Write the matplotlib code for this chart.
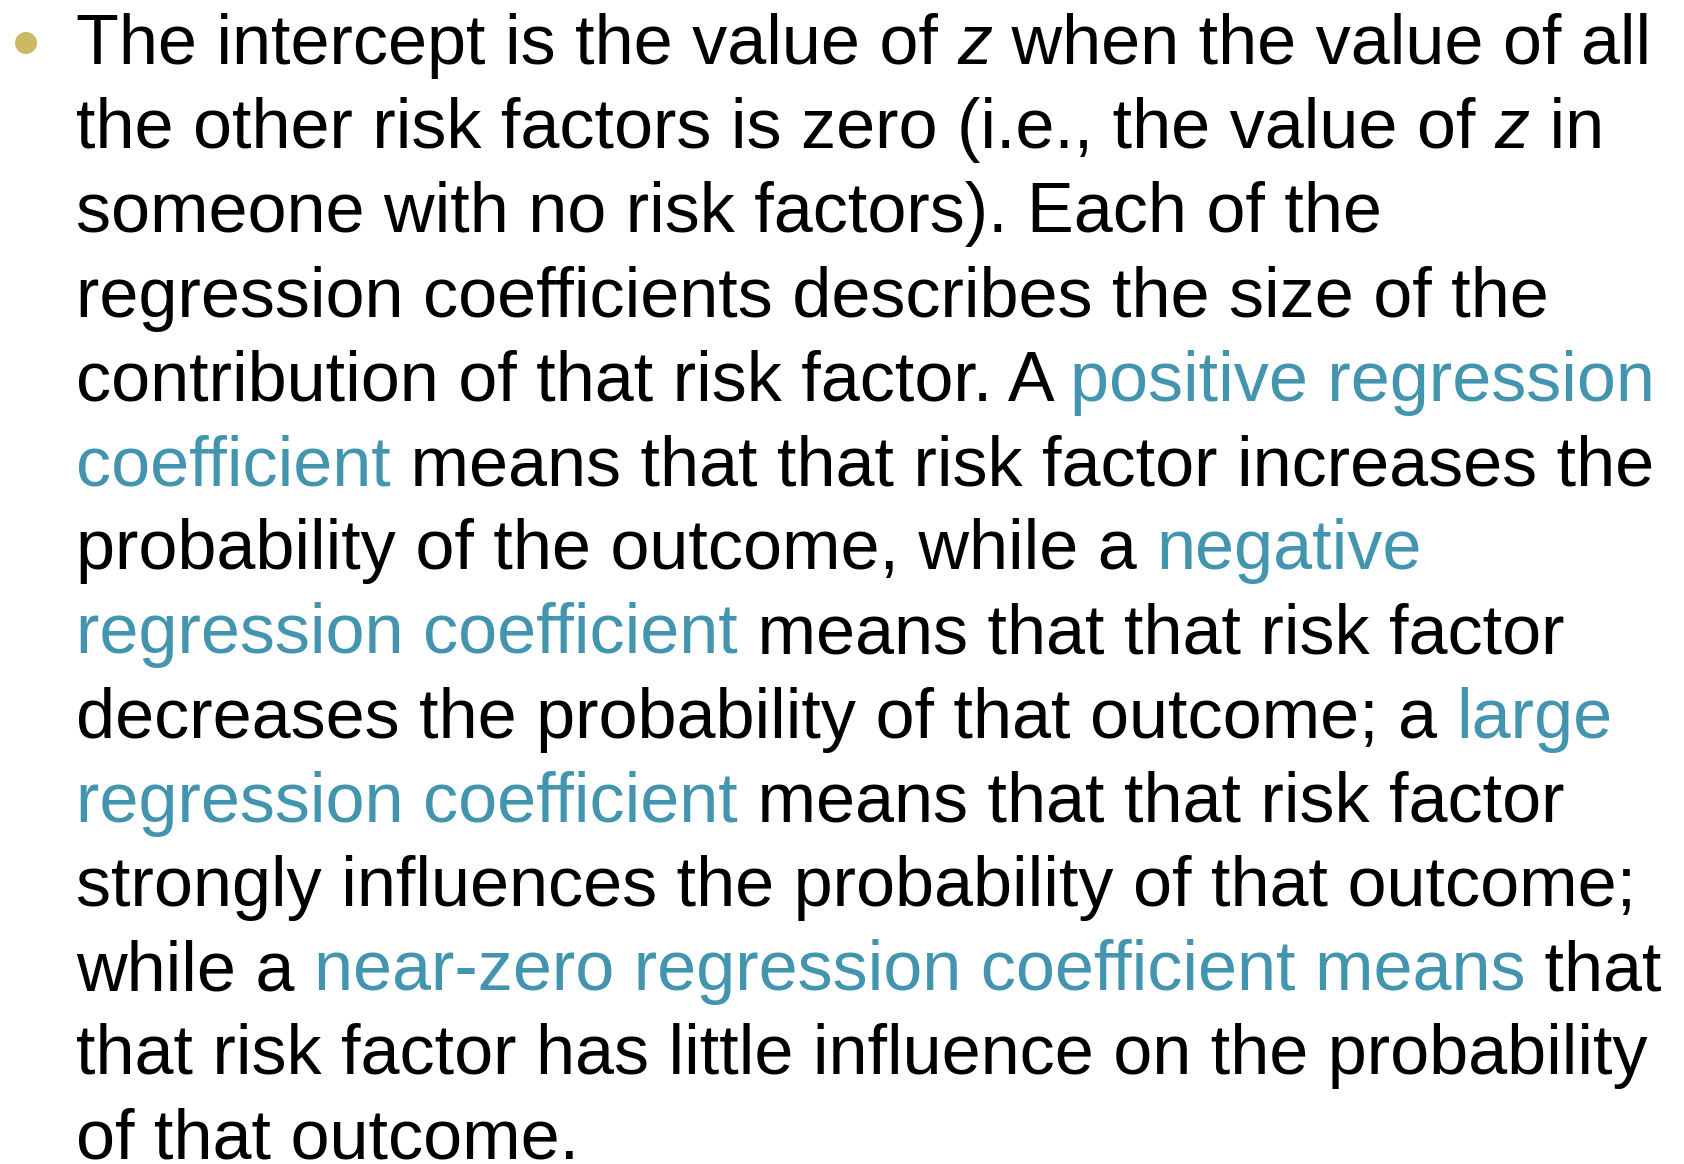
import matplotlib
matplotlib.use("Agg")
import matplotlib.pyplot as plt
from matplotlib.patches import Circle

# Text content: each line is a list of (text, style) segments
# style: "n" normal black, "i" italic black, "h" highlighted teal
lines = [
    [("The intercept is the value of ", "n"), ("z", "i"), (" when the value of all", "n")],
    [("the other risk factors is zero (i.e., the value of ", "n"), ("z", "i"), (" in", "n")],
    [("someone with no risk factors). Each of the", "n")],
    [("regression coefficients describes the size of the", "n")],
    [("contribution of that risk factor. A ", "n"), ("positive regression", "h")],
    [("coefficient", "h"), (" means that that risk factor increases the", "n")],
    [("probability of the outcome, while a ", "n"), ("negative", "h")],
    [("regression coefficient", "h"), (" means that that risk factor", "n")],
    [("decreases the probability of that outcome; a ", "n"), ("large", "h")],
    [("regression coefficient", "h"), (" means that that risk factor", "n")],
    [("strongly influences the probability of that outcome;", "n")],
    [("while a ", "n"), ("near-zero regression coefficient means", "h"), (" that", "n")],
    [("that risk factor has little influence on the probability", "n")],
    [("of that outcome.", "n")],
]

TEXT_COLOR = "#000000"
HIGHLIGHT_COLOR = "#4394AE"
BULLET_COLOR = "#CCB865"

W, H, DPI = 1684, 1164, 100
fig = plt.figure(figsize=(W / DPI, H / DPI), dpi=DPI)
fig.patch.set_facecolor("white")
ax = fig.add_axes([0, 0, 1, 1])
ax.set_xlim(0, W)
ax.set_ylim(H, 0)
ax.axis("off")

FAMILY = "Liberation Sans"
FS = 50.5
x0 = 76
y0 = 64
dy = 84.2

renderer = fig.canvas.get_renderer()

def seg_width(s, style):
    kw = dict(fontsize=FS, family=FAMILY, style="italic" if style == "i" else "normal")
    t1 = ax.text(0, 0, s + "|", **kw)
    t2 = ax.text(0, 0, "|", **kw)
    w = t1.get_window_extent(renderer).width - t2.get_window_extent(renderer).width
    t1.remove(); t2.remove()
    return w

for i, segs in enumerate(lines):
    x = x0
    y = y0 + dy * i
    for s, style in segs:
        color = HIGHLIGHT_COLOR if style == "h" else TEXT_COLOR
        ax.text(x, y, s, fontsize=FS, family=FAMILY, color=color,
                style="italic" if style == "i" else "normal",
                va="baseline", ha="left")
        x += seg_width(s, style)

ax.add_patch(Circle((26, 43), 11, color=BULLET_COLOR, lw=0))

fig.savefig("out.png", dpi=DPI, facecolor="white")
